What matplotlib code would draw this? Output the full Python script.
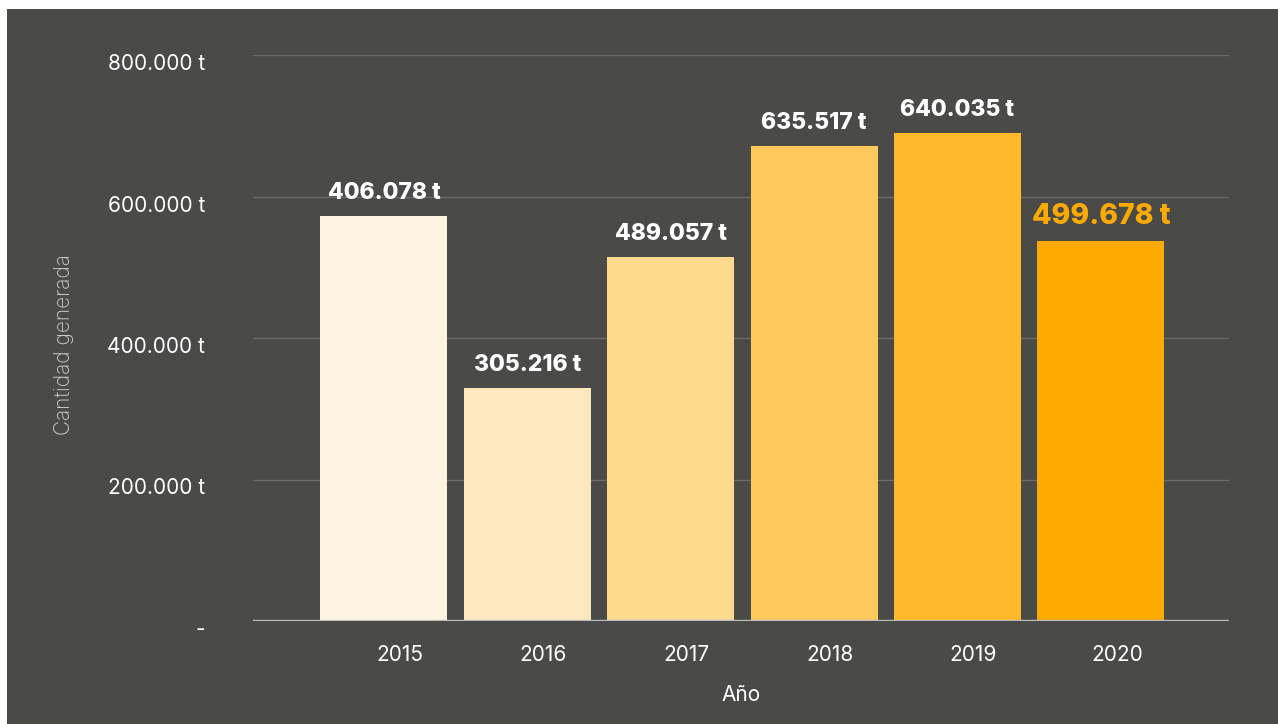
import matplotlib
matplotlib.use("Agg")
import matplotlib.pyplot as plt
from matplotlib.patches import Rectangle
from matplotlib.ticker import FixedLocator
import matplotlib.transforms as mtransforms

years = ["2015", "2016", "2017", "2018", "2019", "2020"]
bar_heights = [572400, 329300, 514500, 671400, 689800, 537100]
value_labels = ["406.078 t", "305.216 t", "489.057 t", "635.517 t", "640.035 t", "499.678 t"]
bar_colors = ["#FFF4E1", "#FFE8C0", "#FFD98C", "#FFC85A", "#FFB92A", "#FFAA00"]
y_ticks = [0, 200000, 400000, 600000, 800000]
y_tick_labels = ["-", "200.000 t", "400.000 t", "600.000 t", "800.000 t"]

BG = "#4A4A48"
plt.rcParams['font.family'] = ['Inter', 'DejaVu Sans']

fig = plt.figure(figsize=(12.78, 7.24), dpi=100)
fig.patch.set_facecolor("white")
fig.patches.append(Rectangle((7/1278, 0), 1 - 7/1278, 1 - 9/724, transform=fig.transFigure,
                             facecolor=BG, edgecolor="none", zorder=-10))

ax = fig.add_axes([253/1278, 1 - 621/724, (1229-253)/1278, (621-55)/724])
ax.set_facecolor("none")
x = list(range(len(years)))
bars = ax.bar(x, bar_heights, width=0.886, color=bar_colors, zorder=3)
ax.set_xlim(-0.913, 5.893)
ax.set_ylim(0, 800000)

ax.yaxis.set_major_locator(FixedLocator(y_ticks))
ax.set_yticklabels(y_tick_labels)
ax.set_xticks(x)
ax.set_xticklabels(years)
ax.tick_params(axis='both', length=0, colors="white", labelsize=15)
ax.tick_params(axis='y', pad=34.5)
ax.tick_params(axis='x', pad=17)
for lab in ax.get_yticklabels():
    lab.set_transform(lab.get_transform() + mtransforms.ScaledTranslation(0, -7/100, fig.dpi_scale_trans))
for lab in ax.get_xticklabels():
    lab.set_transform(lab.get_transform() + mtransforms.ScaledTranslation(16/100, 0, fig.dpi_scale_trans))

for yv in y_ticks[1:]:
    ax.axhline(yv, color="#6B6B69", linewidth=1, zorder=1)
ax.axhline(0, color="#BDBDBD", linewidth=2.4, zorder=4)
for s in ax.spines.values():
    s.set_visible(False)

for xi, h, lab in zip(x, bar_heights, value_labels):
    last = (lab == value_labels[-1])
    ax.annotate(lab, (xi, h), xytext=(0, 12.5), textcoords="offset points",
                ha="center", va="baseline", fontweight="heavy",
                fontsize=20.5 if last else 16.5,
                color="#FFAA00" if last else "white", zorder=5)

ax.set_xlabel("Año", color="white", fontsize=15, labelpad=15)
fig.text(64/1278, 1 - 345/724, "Cantidad generada", rotation=90, ha="center", va="center",
         color="#CFCFCF", fontsize=15, fontweight="light")

fig.savefig("out.png", dpi=100, facecolor=fig.get_facecolor())
